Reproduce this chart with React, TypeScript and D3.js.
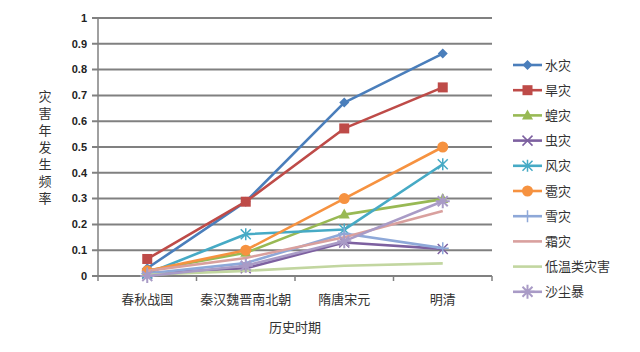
import React from "react";
import * as d3 from "d3";

const categories = ["春秋战国", "秦汉魏晋南北朝", "隋唐宋元", "明清"];
const seriesNames = ["水灾", "旱灾", "蝗灾", "虫灾", "风灾", "雹灾", "雪灾", "霜灾", "低温类灾害", "沙尘暴"];
const shuizai = [0.03, 0.288, 0.672, 0.862];
const hanzai = [0.066, 0.288, 0.572, 0.731];
const huangzai = [0.02, 0.09, 0.238, 0.298];
const chongzai = [0.01, 0.03, 0.13, 0.105];
const fengzai = [0.01, 0.162, 0.18, 0.433];
const baozai = [0.02, 0.1, 0.3, 0.5];
const xuezai = [0.01, 0.05, 0.165, 0.108];
const shuangzai = [0.02, 0.07, 0.15, 0.252];
const diwen = [0.005, 0.02, 0.04, 0.049];
const shachen = [0.0, 0.04, 0.135, 0.29];
const seriesValues = [shuizai, hanzai, huangzai, chongzai, fengzai, baozai, xuezai, shuangzai, diwen, shachen];
const colors = ["#4A7EBB", "#BE4B48", "#98B954", "#7D60A0", "#46AAC5", "#F69240", "#8EA8D8", "#D9A09E", "#C2D6A0", "#A99BC6"];
const markers = ["diamond", "square", "triangle", "x", "asterisk", "circle", "plus", "none", "none", "star"];
const yTicks = [0, 0.1, 0.2, 0.3, 0.4, 0.5, 0.6, 0.7, 0.8, 0.9, 1];
const yTitle = "灾害年发生频率";
const xTitle = "历史时期";

const W = 640, H = 352;
const left = 98, right = 492, top = 18, bottom = 276;

function Marker({ type, x, y, color }: { type: string; x: number; y: number; color: string }) {
  switch (type) {
    case "diamond":
      return <path d={`M${x},${y - 5}L${x + 5},${y}L${x},${y + 5}L${x - 5},${y}Z`} fill={color} />;
    case "square":
      return <rect x={x - 5} y={y - 5} width={10} height={10} fill={color} />;
    case "triangle":
      return <path d={`M${x},${y - 6}L${x + 5.5},${y + 4}L${x - 5.5},${y + 4}Z`} fill={color} />;
    case "circle":
      return <circle cx={x} cy={y} r={5.5} fill={color} />;
    case "x":
      return <path d={`M${x - 5},${y - 5}L${x + 5},${y + 5}M${x - 5},${y + 5}L${x + 5},${y - 5}`} stroke={color} strokeWidth={1.5} />;
    case "asterisk":
      return <path d={`M${x - 5},${y - 5}L${x + 5},${y + 5}M${x - 5},${y + 5}L${x + 5},${y - 5}M${x},${y - 6}L${x},${y + 6}`} stroke={color} strokeWidth={1.5} />;
    case "plus":
      return <path d={`M${x - 6},${y}L${x + 6},${y}M${x},${y - 6}L${x},${y + 6}`} stroke={color} strokeWidth={1.5} />;
    case "star":
      return <path d={`M${x - 5},${y - 5}L${x + 5},${y + 5}M${x - 5},${y + 5}L${x + 5},${y - 5}M${x},${y - 7}L${x},${y + 7}M${x - 7},${y}L${x + 7},${y}`} stroke={color} strokeWidth={2} />;
    default:
      return null;
  }
}

export default function App() {
  const x = d3.scaleBand<string>().domain(categories).range([left, right]);
  const y = d3.scaleLinear().domain([0, 1]).range([bottom, top]);
  const line = d3
    .line<number>()
    .x((_, i) => (x(categories[i]) as number) + x.bandwidth() / 2)
    .y((d) => y(d));
  const cjk = "'Noto Sans CJK SC', sans-serif";
  const tickX = [...categories.map((c) => x(c) as number), right];
  const legendTop = 65;
  const legendStep = 25.2;
  return (
    <svg width={W} height={H} style={{ position: "absolute", left: 0, top: 0, background: "#fff" }}>
      {yTicks.map((t) => (
        <g key={t}>
          <line x1={left - 6} x2={right} y1={y(t)} y2={y(t)} stroke="#808080" strokeWidth={2} />
          <text x={left - 11} y={y(t)} dy="0.35em" textAnchor="end" fontFamily="'Liberation Sans', Arial, sans-serif" fontWeight="bold" fontSize={11} fill="#222">
            {t}
          </text>
        </g>
      ))}
      <line x1={left} x2={left} y1={top} y2={bottom} stroke="#808080" strokeWidth={1.5} />
      {tickX.map((tx, i) => (
        <line key={i} x1={tx} x2={tx} y1={bottom} y2={bottom + 5} stroke="#808080" strokeWidth={1.5} />
      ))}
      {categories.map((c) => (
        <text key={c} x={(x(c) as number) + x.bandwidth() / 2} y={299} dy="0.35em" textAnchor="middle" fontFamily={cjk} fontSize={13} fill="#333">
          {c}
        </text>
      ))}
      <text x={295} y={327} dy="0.35em" textAnchor="middle" fontFamily={cjk} fontSize={13} fill="#333">
        {xTitle}
      </text>
      <text
        x={45}
        y={90}
        fontFamily={cjk}
        fontSize={13}
        fill="#333"
        style={{ writingMode: "vertical-rl", letterSpacing: "4px" } as React.CSSProperties}
      >
        {yTitle}
      </text>
      {seriesValues.map((vals, si) => (
        <g key={seriesNames[si]}>
          <path d={line(vals) || ""} fill="none" stroke={colors[si]} strokeWidth={2.6} strokeLinejoin="round" />
          {vals.map((v, i) => (
            <Marker key={i} type={markers[si]} x={(x(categories[i]) as number) + x.bandwidth() / 2} y={y(v)} color={colors[si]} />
          ))}
        </g>
      ))}
      {seriesNames.map((n, si) => {
        const ly = legendTop + si * legendStep;
        return (
          <g key={n}>
            <line x1={513} x2={542} y1={ly} y2={ly} stroke={colors[si]} strokeWidth={2.6} />
            <Marker type={markers[si]} x={527.5} y={ly} color={colors[si]} />
            <text x={545} y={ly} dy="0.35em" fontFamily={cjk} fontSize={13} fill="#333">
              {n}
            </text>
          </g>
        );
      })}
    </svg>
  );
}
